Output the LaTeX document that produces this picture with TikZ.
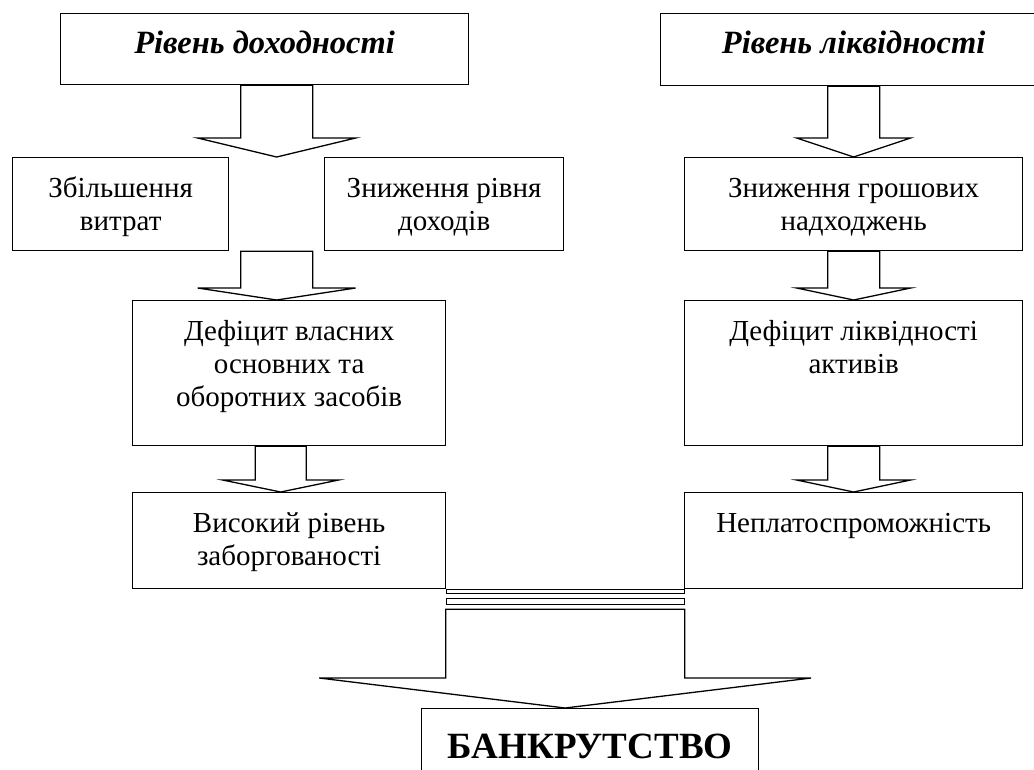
\documentclass[tikz,border=0pt]{standalone}
\usepackage{fontspec}
\setmainfont{Liberation Serif}
\usetikzlibrary{calc}
\newcommand{\bodyfont}{\fontsize{29}{33}\selectfont}
\newcommand{\celltext}[4][17pt]{\parbox[c][#3][t]{#2}{\vspace*{#1}\centering\strut #4\par}}
\newcommand{\blockarrow}[5]{%
  \draw[blockline] let \p1=(#1), \p2=(#2) in
    (\x2-#3,\y1) -- (\x2-#3,\y2+#5) -- (\x2-#4,\y2+#5) -- (\x2,\y2)
    -- (\x2+#4,\y2+#5) -- (\x2+#3,\y2+#5) -- (\x2+#3,\y1) -- cycle;}

\begin{document}
\begin{tikzpicture}[
    x=1pt, y=1pt,
    box/.style={
        draw,
        line width=1.3pt,
        inner sep=0pt,
        anchor=north west,
        font=\bodyfont
    },
    head/.style={box, font=\fontsize{32.5}{37}\selectfont\bfseries\itshape},
    final/.style={box, font=\fontsize{37}{44}\selectfont\bfseries},
    blockline/.style={line width=1.3pt, line join=miter},
    band/.style={draw, line width=1pt}
]
\path[use as bounding box, clip] (0,0) rectangle (1034,-769);

% Top level
\node[head] (income) at (60,-13) {\celltext[14pt]{408pt}{71pt}{Рівень доходності}};
\node[head] (liquid) at (660,-13) {\celltext[14pt]{386pt}{72pt}{Рівень ліквідності}};

% Left branch
\node[box] (costs) at (12,-157) {\celltext{216pt}{93pt}{Збільшення\\витрат}};
\node[box] (fall) at (324,-157) {\celltext{239pt}{93pt}{Зниження рівня\\доходів}};
\node[box] (deficit) at (132,-300) {\celltext{313pt}{145pt}{Дефіцит власних\\основних та\\оборотних засобів}};
\node[box] (debt) at (132,-492) {\celltext{313pt}{96pt}{Високий рівень\\заборгованості}};

% Right branch
\node[box] (money) at (684,-157) {\celltext{338pt}{93pt}{Зниження грошових\\надходжень}};
\node[box] (liqdef) at (684,-300) {\celltext{338pt}{145pt}{Дефіцит ліквідності\\активів}};
\node[box] (insolv) at (684,-492) {\celltext{338pt}{96pt}{Неплатоспроможність}};

% Result
\node[final] (bankrupt) at (421,-708) {\celltext[19pt]{337pt}{62pt}{БАНКРУТСТВО}};

\coordinate (tipA) at ($(costs.north east)!0.5!(fall.north west)$);
\coordinate (tipB) at ($(debt.south east)!0.5!(insolv.south west)$);

% Left arrows
\blockarrow{income.south}{tipA}{36pt}{79pt}{19pt}
\blockarrow{costs.south}{tipA |- deficit.north}{36pt}{79pt}{12pt}
\blockarrow{deficit.south}{$(tipA |- debt.north)+(4,0)$}{25.5pt}{58pt}{12pt}

% Right arrows
\blockarrow{liquid.south}{money.north}{26pt}{57pt}{19pt}
\blockarrow{money.south}{liqdef.north}{26pt}{57pt}{12pt}
\blockarrow{liqdef.south}{insolv.north}{26pt}{57pt}{12pt}

% Joining band and final arrow
\draw[band] (debt.south east) rectangle ($(insolv.south west)+(0,-4)$);
\draw[band] ($(debt.south east)+(0,-9)$) rectangle ($(insolv.south west)+(0,-15)$);
\coordinate (bandend) at ($(debt.south east)+(0,-20)$);
\blockarrow{bandend}{tipB |- bankrupt.north}{119.5pt}{246pt}{30pt}

\end{tikzpicture}
\end{document}
